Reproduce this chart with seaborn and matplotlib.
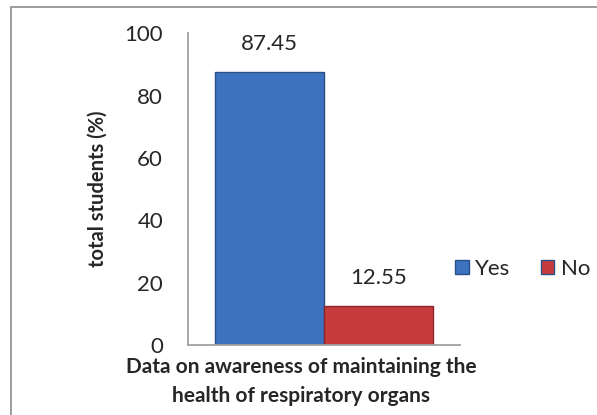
import pandas as pd
import numpy as np
import matplotlib
matplotlib.use("Agg")
import matplotlib.pyplot as plt
import seaborn as sns
from matplotlib.patches import Rectangle

# Data
category = ["Data on awareness of maintaining the\nhealth of respiratory organs"]
answers = ["Yes", "No"]
percent = [87.45, 12.55]
palette = ["#3d72c0", "#c73b3d"]

df = pd.DataFrame({"group": category * len(answers),
                   "answer": answers,
                   "percent": percent})

sns.set_theme(style="white")
plt.rcParams['font.family'] = ['Lato', 'DejaVu Sans']

fig = plt.figure(figsize=(5.97, 4.15), dpi=100)
ax = fig.add_axes([0.315, 0.169, 0.456, 0.751])

sns.barplot(data=df, x="group", y="percent", hue="answer",
            palette=palette, saturation=1, width=0.8, ax=ax,
            edgecolor="#2b5088", linewidth=1.0)
# darker edge for the red bar
ax.patches[1].set_edgecolor("#8a2627")

for p, v in zip(ax.patches[:2], percent):
    ax.text(p.get_x() + p.get_width() / 2, v + 9, "%.2f" % v,
            ha="center", va="center", fontsize=16)

ax.set_ylim(0, 100)
ax.set_yticks([0, 20, 40, 60, 80, 100])
ax.tick_params(axis="y", labelsize=16, pad=18, length=0)
ax.set_xticks([])
ax.set_xlabel(category[0], fontsize=15, fontweight="bold",
              linespacing=1.6)
ax.xaxis.set_label_coords(0.415, -0.038)
ax.xaxis.label.set_va("top")
ax.set_ylabel("total students (%)", fontsize=14.5, fontweight="bold", labelpad=12)

for s in ["top", "right"]:
    ax.spines[s].set_visible(False)
for s in ["left", "bottom"]:
    ax.spines[s].set_color("#a0a0a0")
    ax.spines[s].set_linewidth(1.3)

ax.legend(loc="center left", bbox_to_anchor=(0.949, 0.245), ncol=2,
          frameon=False, fontsize=16, handlelength=0.6, handleheight=0.6,
          handletextpad=0.3, columnspacing=1.36, borderaxespad=0)

# outer chart border
fig.patches.append(Rectangle((11 / 597, -0.05), 1.1, 1 - 7 / 415 + 0.05,
                             transform=fig.transFigure, fill=False,
                             edgecolor="#8c8c8c", linewidth=1.2))

plt.savefig("out.png", dpi=100)
